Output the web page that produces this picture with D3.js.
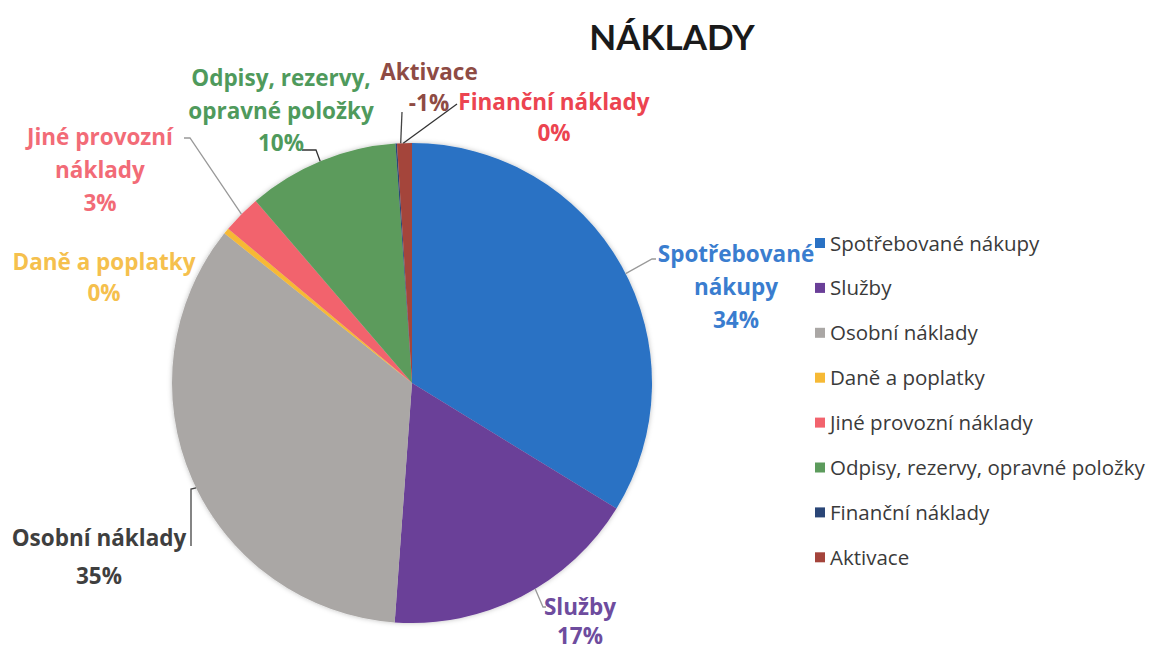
<!DOCTYPE html>
<html>
<head>
<meta charset="utf-8">
<script src="https://cdn.jsdelivr.net/npm/d3@7"></script>
<style>
  body { margin: 0; background: #fff; }
  svg { display: block; }
</style>
</head>
<body>
<div id="chart"></div>
<script>
// data (signed values in %, Aktivace is negative)
const categories = ['Spotřebované nákupy', 'Služby', 'Osobní náklady', 'Daně a poplatky',
  'Jiné provozní náklady', 'Odpisy, rezervy, opravné položky', 'Finanční náklady', 'Aktivace'];
const values = [33.8, 17.4, 34.6, 0.4, 2.6, 10.2, 0.1, -1.0];
const colors = ['#2a72c4', '#6a3f98', '#aaa7a5', '#f6b935', '#f2636d', '#5c9b5c', '#2a4677', '#a4443b'];
const labelColors = ['#3a7dcf', '#6e4c9e', '#3f3f3f', '#f5c04d', '#f26b77', '#4f9a5c', '#ec4450', '#8e4b44'];

// label layout: text lines, centre x, first baseline, line step, leader line (rim angle in degrees + elbow points)
const labelLayout = [
  { lines: ['Spotřebované', 'nákupy'], x: 736, y: 262, step: 33, ang: 62.9, path: [[652, 259], [656, 259]], lc: '#999' },
  { lines: ['Služby'], x: 580, y: 615, step: 28.5, ang: 149.1, path: [[543, 607], [546, 607]], lc: '#999' },
  { lines: ['Osobní náklady'], x: 99, y: 546, step: 38, ang: 244.1, path: [[191, 489], [191, 546]], lc: '#444' },
  { lines: ['Daně a poplatky'], x: 104, y: 270, step: 31, ang: null, path: [], lc: '#999' },
  { lines: ['Jiné provozní', 'náklady'], x: 100, y: 145, step: 33, ang: 314.7, path: [[190, 138], [184, 138]], lc: '#999' },
  { lines: ['Odpisy, rezervy,', 'opravné položky'], x: 281, y: 86, step: 32.5, ang: 337.5, path: [[316, 150], [302, 150]], lc: '#333' },
  { lines: ['Finanční náklady'], x: 554, y: 110, step: 31, ang: 357.9, path: [[457, 104]], lc: '#333' },
  { lines: ['Aktivace'], x: 429, y: 80, step: 31, ang: 357.3, path: [[402, 112]], lc: '#444' }
];

const width = 1155, height = 650;
const cx = 412, cy = 383, radius = 240;

const svg = d3.select('#chart').append('svg')
  .attr('width', width)
  .attr('height', height);

const defs = svg.append('defs');
const shadow = defs.append('filter').attr('id', 'shadow')
  .attr('x', '-10%').attr('y', '-10%').attr('width', '120%').attr('height', '120%');
shadow.append('feDropShadow')
  .attr('dx', 0).attr('dy', 0).attr('stdDeviation', 2.5)
  .attr('flood-color', '#000').attr('flood-opacity', 0.25);

// title
svg.append('text')
  .attr('x', 672)
  .attr('y', 50)
  .attr('text-anchor', 'middle')
  .attr('font-family', 'Lato, "Open Sans", sans-serif')
  .attr('font-weight', 'bold')
  .attr('font-size', '35px')
  .attr('fill', '#1a1a1a')
  .text('NÁKLADY');

const pie = d3.pie()
  .sort(null)
  .value(d => Math.abs(d));

const arc = d3.arc()
  .innerRadius(0)
  .outerRadius(radius);

const arcs = pie(values);

const g = svg.append('g')
  .attr('transform', `translate(${cx},${cy})`);

g.append('g')
  .attr('filter', 'url(#shadow)')
  .selectAll('path')
  .data(arcs)
  .enter()
  .append('path')
  .attr('d', arc)
  .attr('fill', (d, i) => colors[i]);

// leader lines
function rimPoint(deg) {
  const a = deg * Math.PI / 180;
  return [cx + radius * Math.sin(a), cy - radius * Math.cos(a)];
}

labelLayout.forEach(function(l) {
  if (l.ang === null) return;
  const pts = [rimPoint(l.ang)].concat(l.path);
  svg.append('path')
    .attr('d', d3.line()(pts))
    .attr('fill', 'none')
    .attr('stroke', l.lc)
    .attr('stroke-width', 1.3);
});

// data labels
labelLayout.forEach(function(l, i) {
  const t = svg.append('text')
    .attr('text-anchor', 'middle')
    .attr('font-family', '"Open Sans", Lato, sans-serif')
    .attr('font-weight', 'bold')
    .attr('font-size', '22.5px')
    .attr('fill', labelColors[i]);
  const lines = l.lines.concat([Math.round(values[i]) + '%']);
  lines.forEach(function(s, k) {
    t.append('tspan')
      .attr('x', l.x)
      .attr('y', l.y + k * l.step)
      .text(s);
  });
});

// legend
const legend = svg.append('g')
  .attr('transform', 'translate(815,243)');

const item = legend.selectAll('g')
  .data(categories)
  .enter()
  .append('g')
  .attr('transform', (d, i) => `translate(0,${i * 44.9})`);

item.append('rect')
  .attr('x', 0)
  .attr('y', -5)
  .attr('width', 10)
  .attr('height', 10)
  .attr('fill', (d, i) => colors[i]);

item.append('text')
  .attr('x', 15)
  .attr('y', 7.5)
  .attr('font-family', '"Open Sans", Lato, sans-serif')
  .attr('font-size', '20.5px')
  .attr('fill', '#3a3a3a')
  .text(d => d);
</script>
</body>
</html>
